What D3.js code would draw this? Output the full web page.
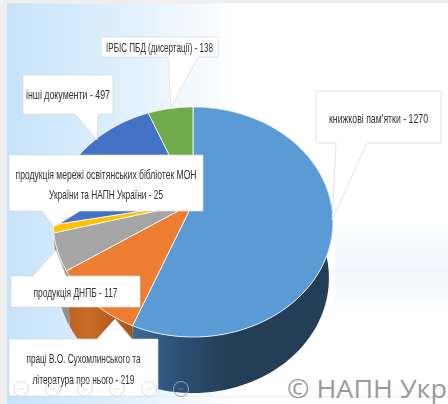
<!DOCTYPE html>
<html><head><meta charset="utf-8">
<script src="https://cdn.jsdelivr.net/npm/d3@7"></script>
<style>html,body{margin:0;padding:0;background:#fff;overflow:hidden}svg{display:block}</style>
</head><body><svg id="c" width="448" height="404"></svg>
<script>
const categories = ["книжкові пам'ятки","праці В.О. Сухомлинського та література про нього","продукція ДНПБ","продукція мережі освітянських бібліотек МОН України та НАПН України","інші документи","ІРБІС ПБД (дисертації)"];
const values = [1270,219,117,25,497,138];
const topColors = ["#5b9bd5","#ed7d31","#a5a5a5","#ffc000","#4472c4","#6fab48"];
const labelLines = [
  ["книжкові пам'ятки - 1270"],
  ["праці В.О. Сухомлинського та","література про нього - 219"],
  ["продукція ДНПБ - 117"],
  ["продукція мережі освітянських бібліотек МОН","України та НАПН України - 25"],
  ["інші документи - 497"],
  ["ІРБІС ПБД (дисертації) - 138"]
];
const watermark = "© НАПН Укр";

const svg = d3.select("#c");
const defs = svg.append("defs");
function grad(id, stops, x1, x2){
  const g = defs.append("linearGradient").attr("id",id).attr("gradientUnits","userSpaceOnUse")
    .attr("x1",x1).attr("x2",x2).attr("y1",0).attr("y2",0);
  stops.forEach(s=>g.append("stop").attr("offset",s[0]).attr("stop-color",s[1]));
}
grad("bg",[[0,"#c6e3fa"],[.45,"#dceefc"],[1,"#ffffff"]],7,235);
grad("sideBlue",[[0,"#3a6b9b"],[.5,"#2b4f72"],[1,"#233e56"]],132,230);
grad("sideOrange",[[0,"#b9601f"],[.35,"#c96b26"],[1,"#a5531c"]],62,134);
const vg = defs.append("linearGradient").attr("id","band").attr("x1",0).attr("x2",0).attr("y1",0).attr("y2",1);
[[0,"#ffffff"],[.5,"#eef6fd"],[1,"#ffffff"]].forEach(s=>vg.append("stop").attr("offset",s[0]).attr("stop-color",s[1]));
defs.append("filter").attr("id","soft").attr("x","-10%").attr("y","-30%").attr("width","120%").attr("height","160%")
  .append("feGaussianBlur").attr("stdDeviation",0.4);

// background
svg.append("rect").attr("width",448).attr("height",404).attr("fill","#fff");
svg.append("rect").attr("x",7).attr("y",3).attr("width",441).attr("height",393).attr("fill","url(#bg)");
svg.append("rect").attr("x",335).attr("y",225).attr("width",113).attr("height",90).attr("fill","url(#band)");
svg.append("rect").attr("width",448).attr("height",3.5).attr("fill","#efefef");
svg.append("rect").attr("width",7).attr("height",404).attr("fill","#f0f0f0");
svg.append("rect").attr("x",7).attr("y",396).attr("width",441).attr("height",8).attr("fill","url(#bg)");
svg.append("rect").attr("x",160).attr("y",396).attr("width",288).attr("height",1).attr("fill","#eeeeee");

// pie slices: d3.pie gives the angles, a perspective map places them on the tilted disc
const cx=193, apexY=203, vA=78.4, k=-0.165, uA=138, depth=56, shrink=136/140;
const project = a => {
  const u=Math.sin(a), v=-Math.cos(a), d=1+k*v;
  return [cx+uA*u/d,(vA*v+apexY)/d];
};
const lower = p => [cx+(p[0]-cx)*shrink,p[1]+depth];
const arcs = d3.pie().sort(null)(values);
const line = d3.line();
const samples = (a0,a1) => {
  const n=Math.max(2,Math.ceil((a1-a0)/0.02));
  return d3.range(n+1).map(i=>a0+(a1-a0)*i/n);
};

// side wall: gray, orange, blue, painted back to front
const sides=[[2,"#8f8f8f"],[1,"url(#sideOrange)"],[0,"url(#sideBlue)"]];
sides.forEach(([i,fill])=>{
  const pts=samples(arcs[i].startAngle,arcs[i].endAngle).map(project);
  const outline=pts.concat(pts.slice().reverse().map(lower));
  svg.append("path").attr("d",line(outline)+"Z").attr("fill",fill);
});
// top faces
arcs.forEach((d,i)=>{
  const pts=[[cx,apexY]].concat(samples(d.startAngle,d.endAngle).map(project));
  svg.append("path").attr("d",line(pts)+"Z").attr("fill",topColors[i])
    .attr("stroke","#fff").attr("stroke-width",0.8).attr("stroke-linejoin","round");
});

// callouts: side "b" has the tail under the box, side "t" above it
const font="'Liberation Sans Narrow','Liberation Sans',sans-serif";
const callouts=[
 {i:5,side:"b",box:[101,37,218,57],tail:[[168,57],[171,107],[198,57]],w:[107],y:[52]},
 {i:4,side:"b",box:[23,75,113,114],tail:[[75,114],[97,140],[98,114]],w:[84],y:[99]},
 {i:0,side:"b",box:[316,91,441,143],tail:[[336,143],[332,220],[367,143]],w:[99],y:[123]},
 {i:2,side:"t",box:[11,276,140,307],tail:[[33,276],[56,250],[66,276]],w:[84],y:[297]},
 {i:1,side:"t",box:[9,339,158,396],tail:[[97,339],[115,319],[132,339]],w:[114,102],y:[363,384]},
 {i:3,side:"b",box:[9,155,203,211],tail:[[42,211],[54,227],[80,211]],w:[181,114],y:[179,199]}
];
callouts.forEach(c=>{
  const [x0,y0,x1,y1]=c.box, t=c.tail;
  const poly = c.side==="b"
    ? [[x0,y0],[x1,y0],[x1,y1],t[2],t[1],t[0],[x0,y1]]
    : [[x0,y0],t[0],t[1],t[2],[x1,y0],[x1,y1],[x0,y1]];
  svg.append("path").attr("d",line(poly)+"Z").attr("fill","#fff")
    .attr("stroke","#d9d9d9").attr("stroke-width",0.8).attr("stroke-opacity",0.9);
  labelLines[c.i].forEach((s,j)=>{
    svg.append("text").attr("x",(x0+x1)/2).attr("y",c.y[j]).attr("text-anchor","middle")
      .attr("font-family",font).attr("font-size",13).attr("fill","#303030")
      .attr("textLength",c.w[j]).attr("lengthAdjust","spacingAndGlyphs")
      .attr("filter","url(#soft)").text(s);
  });
});

// toolbar buttons at the foot of the slide (drawn, faint)
const iconX=d3.scaleLinear().domain([0,5]).range([21,181]);
d3.range(6).forEach(i=>{
  const x=iconX(i), col=i==5?"#8aa4bd":"#dcdcdc";
  svg.append("circle").attr("cx",x).attr("cy",389).attr("r",7.5).attr("fill","none")
    .attr("stroke",col).attr("stroke-width",1);
  svg.append("path").attr("d",line([[x-2.5,389],[x+2.5,389]])).attr("stroke",col).attr("fill","none")
    .attr("stroke-dasharray",i==5?"1.2 1":null);
});

svg.append("text").attr("x",287).attr("y",398).attr("font-family","'Open Sans',sans-serif")
  .attr("font-size",25.5).attr("fill","#9a9a9a")
  .attr("textLength",160).attr("lengthAdjust","spacingAndGlyphs").text(watermark);
</script></body></html>
